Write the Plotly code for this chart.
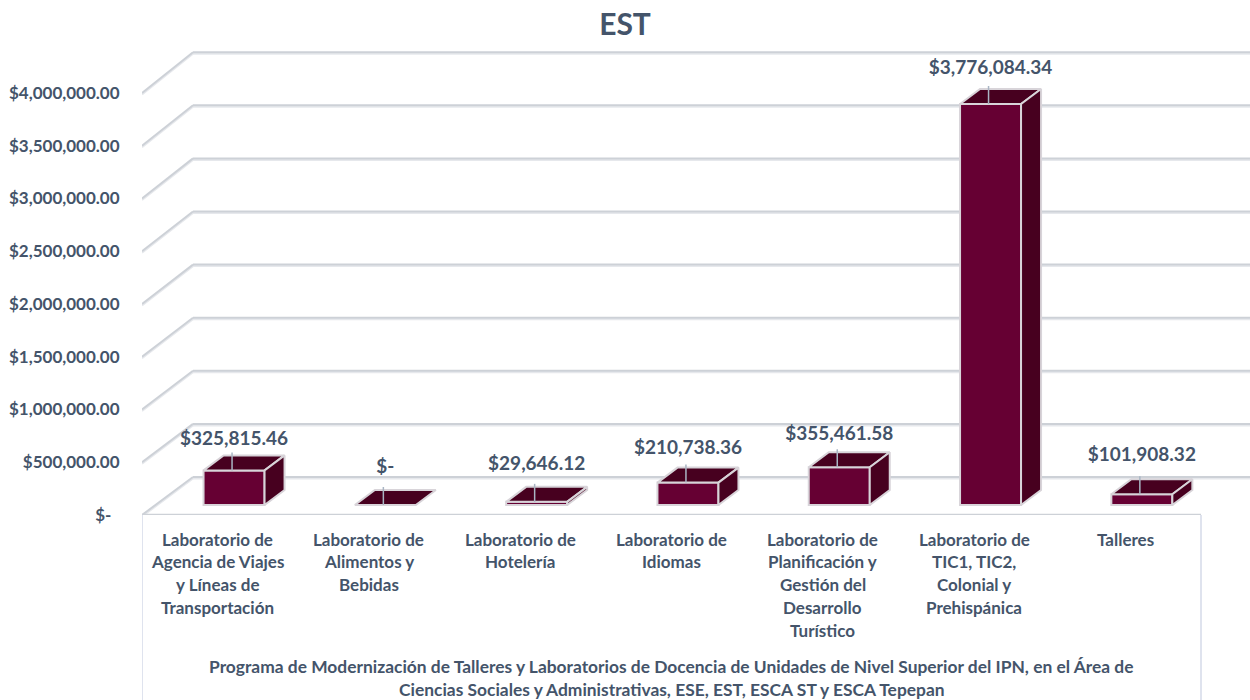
import plotly.graph_objects as go

categories = [
    ["Laboratorio de", "Agencia de Viajes", "y Líneas de", "Transportación"],
    ["Laboratorio de", "Alimentos y", "Bebidas"],
    ["Laboratorio de", "Hotelería"],
    ["Laboratorio de", "Idiomas"],
    ["Laboratorio de", "Planificación y", "Gestión del", "Desarrollo", "Turístico"],
    ["Laboratorio de", "TIC1, TIC2,", "Colonial y", "Prehispánica"],
    ["Talleres"],
]
values = [325815.46, 0, 29646.12, 210738.36, 355461.58, 3776084.34, 101908.32]
value_labels = ["$325,815.46", "$-", "$29,646.12", "$210,738.36", "$355,461.58", "$3,776,084.34", "$101,908.32"]
y_ticks = [0, 500000, 1000000, 1500000, 2000000, 2500000, 3000000, 3500000, 4000000]
y_tick_labels = ["$-\u00a0\u00a0", "$500,000.00", "$1,000,000.00", "$1,500,000.00", "$2,000,000.00",
                 "$2,500,000.00", "$3,000,000.00", "$3,500,000.00", "$4,000,000.00"]
axis_title = ["Programa de Modernización de Talleres y Laboratorios de Docencia de Unidades de Nivel Superior del IPN, en el Área de",
              "Ciencias Sociales y Administrativas, ESE, EST, ESCA ST y ESCA Tepepan"]

FONT = "Lato, Carlito, Calibri, sans-serif"
TEXT = "#44546a"
FRONT = "#660033"
DARK = "#47001f"
EDGE = "#d8d4d9"
WALL = "#cdd1d7"
WALL_SOFT = "#e6e8ec"
BOX = "#dfe3ee"

# pixel scales of the fake 3d projection
CAT_PX = 151.3
VAL_PX = 53.1 / 500000
FRONT_SCALE = 52.75 / 53.1  # front edge of the wall is a little tighter than the back


def dx(px):
    return px / CAT_PX


def dv(px):
    return px / VAL_PX


fig = go.Figure()

# walls and floor, drawn under the bars
n = len(categories)
x_left = -0.5
x_floor_end = x_left + dx(1059)
x_end = x_left + dx(1108)
for shift, color in [(-1.5, WALL_SOFT), (0, WALL)]:
    s = dv(shift)
    for v in y_ticks:
        back_x = x_left + dx(51)
        back_v = v + dv(38)
        fig.add_shape(type="line", x0=x_left, x1=back_x, y0=v * FRONT_SCALE + s, y1=back_v + s, layer="below",
                      line=dict(color=color, width=2))
        fig.add_shape(type="line", x0=back_x, x1=x_end, y0=back_v + s, y1=back_v + s, layer="below",
                      line=dict(color=color, width=2))
fig.add_shape(type="line", x0=x_left, x1=x_floor_end, y0=0, y1=0, layer="below", line=dict(color=WALL, width=2.5))
for bx in [x_left, x_floor_end]:
    fig.add_shape(type="line", xref="x", yref="paper", x0=bx, x1=bx, y0=0, y1=-185 / 475, line=dict(color=BOX, width=2))

# bar geometry
BAR_W = dx(61)
BAR_SHIFT = dx(16.4)
BAR_BASE = dv(10)
DEPTH_X = dx(20)
DEPTH_V = dv(15)
centers = [i + BAR_SHIFT for i in range(n)]

fig.add_trace(go.Bar(
    x=centers,
    y=values,
    base=BAR_BASE,
    width=BAR_W,
    marker=dict(color=FRONT, line=dict(color=EDGE, width=2)),
    hoverinfo="skip",
))

for c, v in zip(centers, values):
    top = v + BAR_BASE
    l, r = c - BAR_W / 2, c + BAR_W / 2
    fig.add_trace(go.Scatter(
        x=[l, r, r + DEPTH_X, l + DEPTH_X, l],
        y=[top, top, top + DEPTH_V, top + DEPTH_V, top],
        mode="lines", fill="toself", fillcolor=DARK, line=dict(color=EDGE, width=2), hoverinfo="skip",
    ))
    if v > 0:
        fig.add_trace(go.Scatter(
            x=[r, r + DEPTH_X, r + DEPTH_X, r, r],
            y=[BAR_BASE, BAR_BASE + DEPTH_V, top + DEPTH_V, top, BAR_BASE],
            mode="lines", fill="toself", fillcolor=DARK, line=dict(color=EDGE, width=2), hoverinfo="skip",
        ))
    # leader line of the data label
    fig.add_trace(go.Scatter(
        x=[c - dx(2), c - dx(2)], y=[top, top + dv(18)],
        mode="lines", line=dict(color="#a9b5c4", width=1.5), hoverinfo="skip",
    ))

label_lift_px = [30, 37, 37, 33, 32, 35, 38]
fig.add_trace(go.Scatter(
    x=centers,
    y=[v + BAR_BASE + dv(p) for v, p in zip(values, label_lift_px)],
    mode="text",
    text=value_labels,
    textposition="middle center",
    textfont=dict(family=FONT, size=19, color=TEXT, weight="bold"),
    hoverinfo="skip",
))

# category labels, one annotation per line because the line spacing is wider than plotly's
for i, lines in enumerate(categories):
    for j, line in enumerate(lines):
        fig.add_annotation(x=i, y=0, xref="x", yref="y", text=line, showarrow=False,
                           yshift=-24 - 22.8 * j, yanchor="middle",
                           font=dict(family=FONT, size=17, color=TEXT, weight="bold"))
for j, line in enumerate(axis_title):
    fig.add_annotation(x=(x_left + x_floor_end) / 2, y=0, xref="x", yref="y", text=line, showarrow=False,
                       yshift=-151 - 23 * j, yanchor="middle",
                       font=dict(family=FONT, size=17.4, color=TEXT, weight="bold"))

fig.update_layout(
    width=1250,
    height=700,
    margin=dict(l=142, r=0, t=40, b=185),
    paper_bgcolor="#ffffff",
    plot_bgcolor="#ffffff",
    showlegend=False,
    font=dict(family=FONT, color=TEXT),
    title=dict(text="<b>EST</b>", x=0.5, xanchor="center", y=0.965, yanchor="middle",
               font=dict(family=FONT, size=30, color=TEXT)),
)
fig.update_xaxes(range=[x_left, x_end], showgrid=False, zeroline=False, showline=False, showticklabels=False, ticks="")
fig.update_yaxes(
    range=[0, 475 / VAL_PX],
    tickvals=[v * FRONT_SCALE for v in y_ticks],
    ticktext=y_tick_labels,
    tickfont=dict(family=FONT, size=17, color=TEXT, weight="bold"),
    ticks="outside",
    ticklen=18,
    tickcolor="rgba(0,0,0,0)",
    showgrid=False,
    zeroline=False,
    showline=False,
)

fig.write_html("out.html", config=dict(displayModeBar=False), post_script="document.body.style.margin='0';")
